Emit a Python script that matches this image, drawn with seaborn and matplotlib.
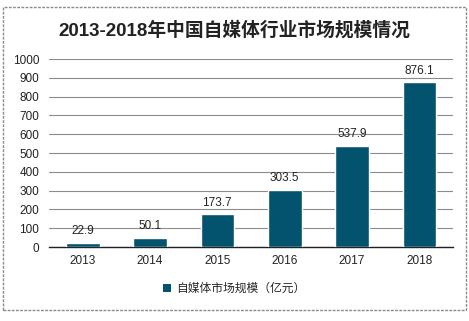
import matplotlib
matplotlib.use("Agg")
import matplotlib.pyplot as plt
import seaborn as sns
import pandas as pd
from matplotlib.patches import Rectangle, Patch

years = ["2013", "2014", "2015", "2016", "2017", "2018"]
values = [22.9, 50.1, 173.7, 303.5, 537.9, 876.1]
yticks = [0, 100, 200, 300, 400, 500, 600, 700, 800, 900, 1000]
title = "2013-2018年中国自媒体行业市场规模情况"
legend_label = "自媒体市场规模（亿元）"

sns.set_theme(style="white")
plt.rcParams['font.family'] = ['Liberation Sans', 'Noto Sans CJK SC', 'DejaVu Sans']

df = pd.DataFrame({"year": years, "value": values})
bar_color = "#04536E"

fig = plt.figure(figsize=(4.69, 3.21), dpi=100)
ax = fig.add_axes([49/469, 1 - 247/321, (453-49)/469, (247-59)/321])

sns.barplot(data=df, x="year", y="value", color=bar_color, width=0.5, ax=ax,
            saturation=1, zorder=3)

ax.set_ylim(0, 1000)
ax.set_xlim(-0.5, 5.5)
ax.set_yticks(yticks)
ax.set_yticklabels([str(t) for t in yticks], fontsize=8.5, color="#222222")
ax.tick_params(axis='x', labelsize=8.5, colors="#222222", length=0, pad=6)
ax.tick_params(axis='y', length=0, pad=7)
ax.set_xlabel("")
ax.set_ylabel("")
ax.grid(axis='y', color="#8c8c8c", linewidth=0.8, zorder=0)
for s in ["left", "right", "top"]:
    ax.spines[s].set_visible(False)
ax.spines["bottom"].set_color("#222222")
ax.spines["bottom"].set_linewidth(1.0)

for i, v in enumerate(values):
    ax.annotate(f"{v}", xy=(i, v), xytext=(0, 4), textcoords="offset points",
                ha="center", va="bottom", fontsize=8.5, color="#222222", zorder=4)

fig.text(234/469, 1 - 30/321, title, ha="center", va="center", fontsize=13.5,
         fontweight="bold", color="#222222",
         family=['Liberation Sans', 'Noto Sans CJK SC'])

handle = Patch(facecolor=bar_color, edgecolor="none")
fig.legend([handle], [legend_label], loc="center", bbox_to_anchor=(234/469, 1 - 289/321),
           frameon=False, fontsize=8.5, handlelength=0.7, handleheight=0.7,
           handletextpad=0.4)

border = Rectangle((3/469, 1 - 310/321), (466-3)/469, (310-7)/321, transform=fig.transFigure,
                   fill=False, edgecolor="#8a8a8a", linewidth=1.0, linestyle=(0, (2, 1)))
fig.patches.append(border)

fig.savefig("out.png", dpi=100)
